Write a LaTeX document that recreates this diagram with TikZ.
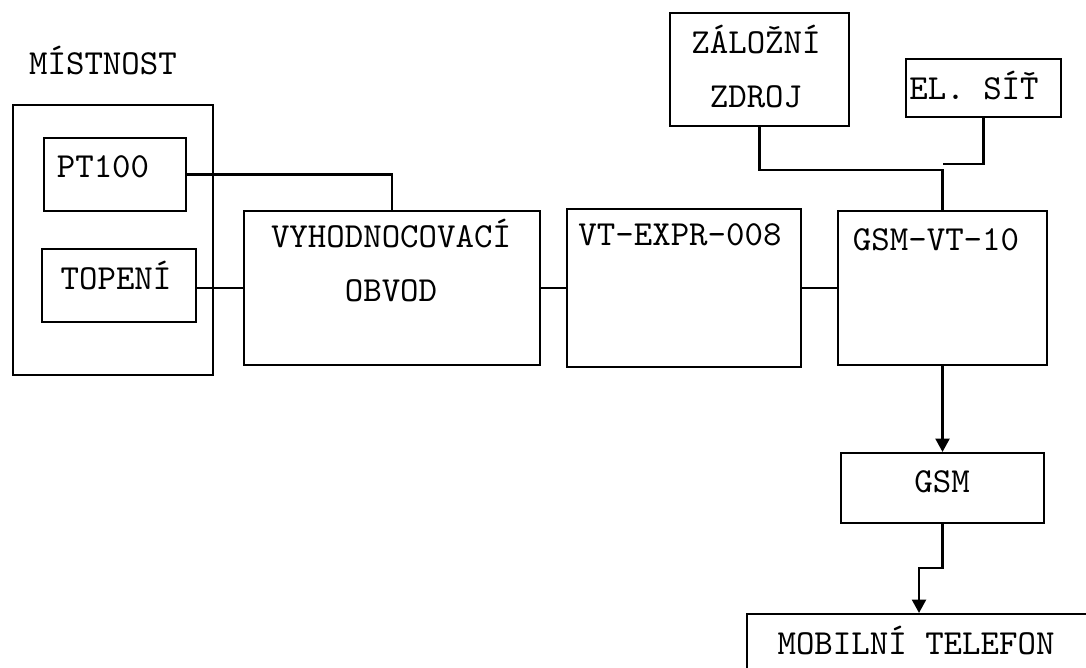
\documentclass[tikz,border=0pt]{standalone}
\usepackage{fontspec}
\usetikzlibrary{arrows.meta,fit}
\tikzset{
  every picture/.style={>={Triangle[length=3.8pt,width=4pt]},
    font=\ttfamily\fontsize{10}{15.4}\selectfont},
  blok/.style={draw, line width=0.6pt, inner sep=0pt},
  popis/.style={anchor=base, align=center, inner sep=0pt},
  spoj/.style={line width=0.6pt},
}
\newcommand{\blok}[3]{\node[blok, fit={#2 #3}] (#1) {};}

\begin{document}
\begin{tikzpicture}[x=0.01cm,y=-0.01cm]
  \path[use as bounding box] (0,0) rectangle (1086,668);
  \clip (0,0) rectangle (1086,668);
  % mistnost a cidla
  \node[popis] (mist-t) at (103,75) {MÍSTNOST};
  \blok{mist}{(13,105)}{(213,375)}
  \blok{pt}{(44,138)}{(186,211)}
  \blok{top}{(42,249)}{(196,322)}
  \node[popis] (pt-t) at (103,178) {PT100};
  \node[popis] (top-t) at (116,290) {TOPENÍ};
  % hlavni retezec
  \blok{vyh}{(244,211)}{(540,365)}
  \blok{vt}{(567,209)}{(801,367)}
  \blok{gsmvt}{(838,211)}{(1047,365)}
  \node[popis] (vyh-t) at (391,302) {VYHODNOCOVACÍ\\OBVOD};
  \node[popis] (vt-t) at (680,246) {VT-EXPR-008};
  \node[popis] (gsmvt-t) at (936,251) {GSM-VT-10};
  % napajeni
  \blok{zal}{(670,13)}{(849,126)}
  \blok{el}{(906,59)}{(1061,117)}
  \node[popis] (zal-t) at (756,108) {ZÁLOŽNÍ\\ZDROJ};
  \node[popis] (el-t) at (974,100) {EL. SÍŤ};
  % vystup
  \blok{gsm}{(841,453)}{(1044,523)}
  \blok{mob}{(747,614)}{(1120,720)}
  \node[popis] (gsm-t) at (942,493) {GSM};
  \node[popis] (mob-t) at (916,655) {MOBILNÍ TELEFON};
  % spoje
  \coordinate (uzel1) at (942.5,170);
  \coordinate (uzel2) at (942.5,164);
  \coordinate (zlom) at (919,568);
  \draw[spoj] (pt.east) -| (vyh.north);
  \draw[spoj] (vyh.west -| top.east) -- (vyh.west);
  \draw[spoj] (vyh.east) -- (vt.west);
  \draw[spoj] (vt.east) -- (gsmvt.west);
  \draw[spoj] (zal.south) |- (uzel1) -- (gsmvt.north);
  \draw[spoj] (el.south) |- (uzel2);
  \draw[spoj,->] (gsmvt.south) -- (gsm.north);
  \draw[spoj,->] (gsm.south) |- (zlom) -- (zlom |- mob.north);
\end{tikzpicture}
\end{document}
